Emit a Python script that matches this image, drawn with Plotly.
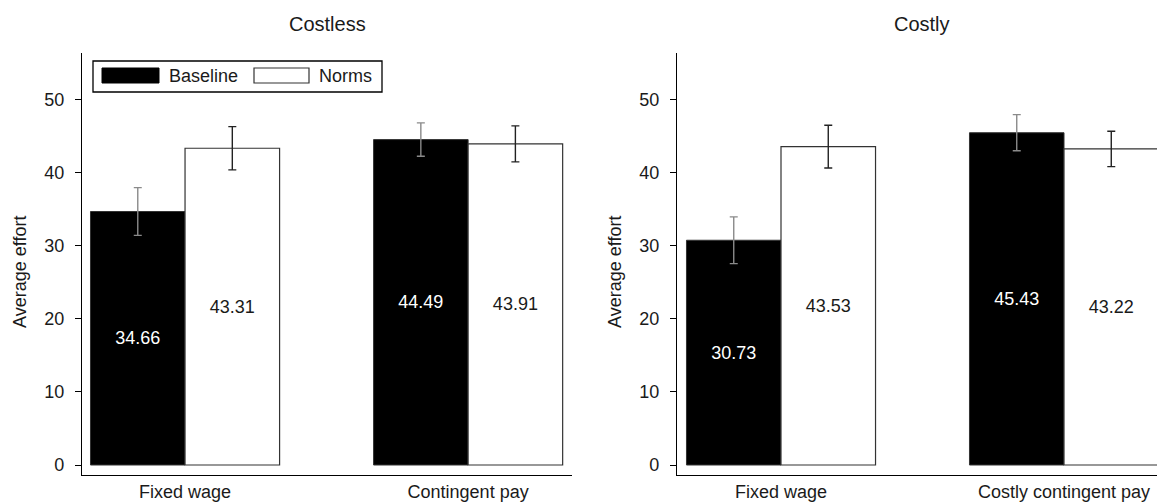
import plotly.graph_objects as go

W, H = 1157, 503

panels = ["Costless", "Costly"]
categories_costless = ["Fixed wage", "Contingent pay"]
categories_costly = ["Fixed wage", "Costly contingent pay"]
series_names = ["Baseline", "Norms"]

baseline_costless = [34.66, 44.49]
norms_costless = [43.31, 43.91]
baseline_costly = [30.73, 45.43]
norms_costly = [43.53, 43.22]

# error bar half-widths
baseline_costless_err = [3.26, 2.28]
norms_costless_err = [2.96, 2.46]
baseline_costly_err = [3.20, 2.47]
norms_costly_err = [2.92, 2.42]

FONT = "Liberation Sans, Arial, sans-serif"
TXT = "#1a1a1a"

def px(x):
    return x / W

def py(y):
    return 1 - y / H

fig = go.Figure()

data = [
    ("x", "y", categories_costless, baseline_costless, norms_costless, baseline_costless_err, norms_costless_err),
    ("x2", "y2", categories_costly, baseline_costly, norms_costly, baseline_costly_err, norms_costly_err),
]

for xa, ya, cats, base, norm, be, ne in data:
    fig.add_trace(go.Bar(
        x=cats, y=base, name=series_names[0], xaxis=xa, yaxis=ya,
        marker=dict(color="black", line=dict(color="#333333", width=1)),
        error_y=dict(type="data", array=be, visible=True, color="#8a8a8a", thickness=1.4, width=4),
        texttemplate="%{y:.2f}", textposition="inside", insidetextanchor="middle",
        textangle=0, textfont=dict(color="white", size=18, family=FONT),
        showlegend=False,
    ))
    fig.add_trace(go.Bar(
        x=cats, y=norm, name=series_names[1], xaxis=xa, yaxis=ya,
        marker=dict(color="white", line=dict(color="#333333", width=1.2)),
        error_y=dict(type="data", array=ne, visible=True, color="#222222", thickness=1.4, width=4),
        texttemplate="%{y:.2f}", textposition="inside", insidetextanchor="middle",
        textangle=0, textfont=dict(color=TXT, size=18, family=FONT),
        showlegend=False,
    ))

yrange = [-1.367, 56.33]
ydom = [py(475), py(53)]

common_x = dict(showline=True, linecolor="black", linewidth=1.3, ticks="", showgrid=False,
                zeroline=False, tickfont=dict(size=18, family=FONT, color=TXT),
                ticklabelstandoff=0, automargin=False, fixedrange=True)
common_y = dict(showline=True, linecolor="black", linewidth=1.3, ticks="outside", ticklen=6,
                tickcolor="black", tickwidth=1.3, showgrid=False, zeroline=False,
                tickvals=[0, 10, 20, 30, 40, 50], range=yrange, domain=ydom,
                tickfont=dict(size=18, family=FONT, color=TXT), ticklabelstandoff=7,
                automargin=False, fixedrange=True)

fig.update_layout(
    width=W, height=H,
    margin=dict(l=0, r=0, t=0, b=0),
    paper_bgcolor="white", plot_bgcolor="white",
    barmode="group", bargap=0.332, bargroupgap=0,
    showlegend=False,
    font=dict(family=FONT, color=TXT),
    xaxis=dict(domain=[px(82), px(572)], range=[-0.364, 1.367], anchor="y", **common_x),
    xaxis2=dict(domain=[px(677), 1.0], range=[-0.3675, 1.3286], anchor="y2", **common_x),
    yaxis=dict(anchor="x", **common_y),
    yaxis2=dict(anchor="x2", **common_y),
)

annotations = []
# panel titles
for title, cx in zip(panels, [327, 922]):
    annotations.append(dict(text=title, x=px(cx), y=py(24), xref="paper", yref="paper",
                            showarrow=False, font=dict(size=20, family=FONT, color=TXT),
                            xanchor="center", yanchor="middle"))
# y axis titles
for cx in [20, 615]:
    annotations.append(dict(text="Average effort", x=px(cx), y=py(272), xref="paper", yref="paper",
                            showarrow=False, textangle=-90, font=dict(size=18, family=FONT, color=TXT),
                            xanchor="center", yanchor="middle"))
# legend texts
annotations.append(dict(text=series_names[0], x=px(167), y=py(76), xref="paper", yref="paper",
                        showarrow=False, xanchor="left", yanchor="middle",
                        font=dict(size=18, family=FONT, color=TXT)))
annotations.append(dict(text=series_names[1], x=px(317), y=py(76), xref="paper", yref="paper",
                        showarrow=False, xanchor="left", yanchor="middle",
                        font=dict(size=18, family=FONT, color=TXT)))

shapes = [
    dict(type="rect", xref="paper", yref="paper", x0=px(93), x1=px(382), y0=py(92), y1=py(61),
         line=dict(color="black", width=1.3), fillcolor="white", layer="above"),
    dict(type="rect", xref="paper", yref="paper", x0=px(102), x1=px(159), y0=py(83), y1=py(68),
         line=dict(color="black", width=1), fillcolor="black", layer="above"),
    dict(type="rect", xref="paper", yref="paper", x0=px(254), x1=px(309), y0=py(83), y1=py(68),
         line=dict(color="#333333", width=1.2), fillcolor="white", layer="above"),
]

fig.update_layout(annotations=annotations, shapes=shapes)

fig.write_html("out.html", config={"displayModeBar": False},
               post_script="document.body.style.margin='0';document.body.style.overflow='hidden';")
